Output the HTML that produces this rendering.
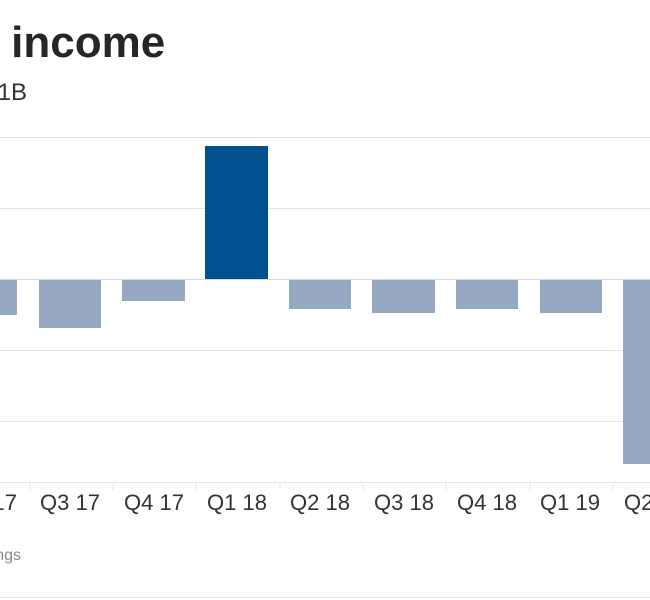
<!DOCTYPE html>
<html><head><style>
body{margin:0;width:650px;height:600px;background:#fff;overflow:hidden;font-family:"Liberation Sans",sans-serif;position:relative}
.t{position:absolute;color:#222;white-space:nowrap;line-height:1}
</style></head><body>
<div class="t" style="left:-72px;top:21px;font-size:44px;font-weight:bold;color:#262626">Net income</div>
<div class="t" style="left:-100px;width:127px;text-align:right;top:81px;font-size:24px;color:#333;">-$1B</div>
<svg width="650" height="600" style="position:absolute;left:0;top:0">
<g stroke="#e3e3e3" stroke-width="1">
<line x1="0" x2="650" y1="137.5" y2="137.5"/>
<line x1="0" x2="650" y1="208.5" y2="208.5"/>
<line x1="0" x2="650" y1="350.5" y2="350.5"/>
<line x1="0" x2="650" y1="421.5" y2="421.5"/>
<line x1="0" x2="650" y1="482.5" y2="482.5"/>
<line x1="0" x2="650" y1="597.5" y2="597.5"/>
</g>
<g stroke="#e3e3e3"><line x1="30" x2="30" y1="482" y2="490"/><line x1="113" x2="113" y1="482" y2="490"/><line x1="196" x2="196" y1="482" y2="490"/><line x1="280" x2="280" y1="482" y2="490"/><line x1="363" x2="363" y1="482" y2="490"/><line x1="446" x2="446" y1="482" y2="490"/><line x1="530" x2="530" y1="482" y2="490"/><line x1="613" x2="613" y1="482" y2="490"/></g>
<g fill="#96a9c2">
<rect x="-20" y="279" width="37" height="36"/>
<rect x="39" y="279" width="62" height="49"/>
<rect x="122" y="279" width="63" height="22"/>
<rect x="289" y="279" width="62" height="30"/>
<rect x="372" y="279" width="63" height="34"/>
<rect x="456" y="279" width="62" height="30"/>
<rect x="540" y="279" width="62" height="34"/>
<rect x="623" y="279" width="40" height="185"/>
</g>
<rect x="205" y="146" width="63" height="133" fill="#00528f"/>
<line x1="0" x2="650" y1="279.5" y2="279.5" stroke="#d8d8d8"/>
<g font-family="Liberation Sans,sans-serif" font-size="22" fill="#333" text-anchor="middle">
<text x="-13" y="510">Q2 17</text><text x="70" y="510">Q3 17</text><text x="154" y="510">Q4 17</text><text x="237" y="510">Q1 18</text><text x="320" y="510">Q2 18</text><text x="404" y="510">Q3 18</text><text x="487" y="510">Q4 18</text><text x="570" y="510">Q1 19</text><text x="654" y="510">Q2 19</text>
</g>
<text x="21" y="560" text-anchor="end" font-family="Liberation Sans,sans-serif" font-size="16" fill="#888">Source: Filings</text>
</svg>
</body></html>
